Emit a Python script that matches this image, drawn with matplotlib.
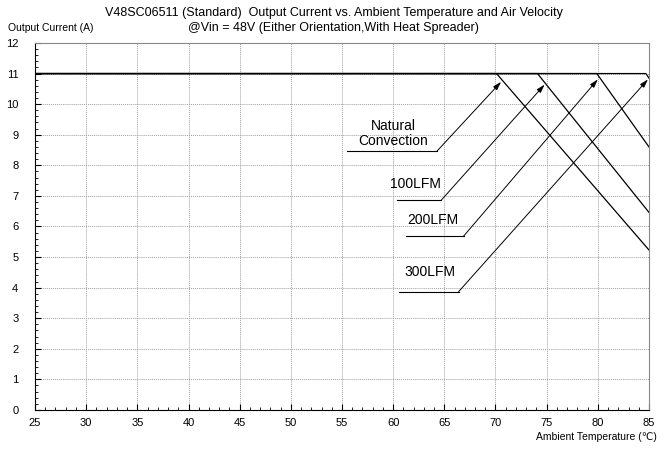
import matplotlib.pyplot as plt
from matplotlib.ticker import MultipleLocator

plt.rcParams['font.family'] = ['Liberation Sans', 'DejaVu Sans']

# derating curves: temperature (C) vs output current (A)
temps_nc = [25, 70.1, 85]
curr_nc = [11, 11, 5.23]
temps_100 = [25, 74.1, 85]
curr_100 = [11, 11, 6.46]
temps_200 = [25, 79.9, 85]
curr_200 = [11, 11, 8.6]
temps_300 = [25, 84.7, 85]
curr_300 = [11, 11, 10.85]

labels = ["Natural\nConvection", "100LFM", "200LFM", "300LFM"]
label_xy = [(60.0, 9.05), (62.15, 7.39), (63.9, 6.21), (63.6, 4.5)]
underline_x = [(55.5, 64.3), (60.4, 64.7), (61.3, 66.9), (60.6, 66.4)]
underline_y = [8.47, 6.86, 5.69, 3.87]
arrow_tip = [(70.55, 10.73), (74.8, 10.64), (80.0, 10.81), (84.9, 10.81)]

fig = plt.figure(figsize=(6.67, 4.5), dpi=100)
ax = fig.add_axes([0.0525, 0.089, 0.9205, 0.8155])

for t, c in [(temps_nc, curr_nc), (temps_100, curr_100),
             (temps_200, curr_200), (temps_300, curr_300)]:
    ax.plot(t, c, color='black', lw=0.9)

for i in range(4):
    x0, x1 = underline_x[i]
    y = underline_y[i]
    ax.plot([x0, x1], [y, y], color='black', lw=0.8)
    ax.annotate("", xy=arrow_tip[i], xytext=(x1, y),
                arrowprops=dict(arrowstyle='-|>,head_length=0.5,head_width=0.15',
                                color='black', lw=0.7, shrinkA=0, shrinkB=0))
    ax.text(label_xy[i][0], label_xy[i][1], labels[i], ha='center', va='center',
            fontsize=10, linespacing=1.1)

ax.set_xlim(25, 85)
ax.set_ylim(0, 12)
ax.xaxis.set_major_locator(MultipleLocator(5))
ax.xaxis.set_minor_locator(MultipleLocator(1))
ax.yaxis.set_major_locator(MultipleLocator(1))
ax.yaxis.set_minor_locator(MultipleLocator(0.2))
ax.tick_params(which='both', direction='in', labelsize=8, pad=6)
ax.tick_params(which='major', length=4)
ax.tick_params(which='minor', length=2)
ax.tick_params(axis='y', pad=12)
ax.grid(True, which='major', color='#a0a0a0', ls=(0, (1, 1)), lw=0.7)
for s in ['top', 'right']:
    ax.spines[s].set_color('#888888')
    ax.spines[s].set_linewidth(0.8)

fig.text(0.5, 0.971, "V48SC06511 (Standard)  Output Current vs. Ambient Temperature and Air Velocity",
         ha='center', va='center', fontsize=9)
fig.text(0.5, 0.938, "@Vin = 48V (Either Orientation,With Heat Spreader)",
         ha='center', va='center', fontsize=9)
fig.text(0.012, 0.938, "Output Current (A)", ha='left', va='center', fontsize=7.5)
fig.text(0.985, 0.028, "Ambient Temperature (℃)", ha='right', va='center', fontsize=7.5)

fig.savefig("out.png", dpi=100)
